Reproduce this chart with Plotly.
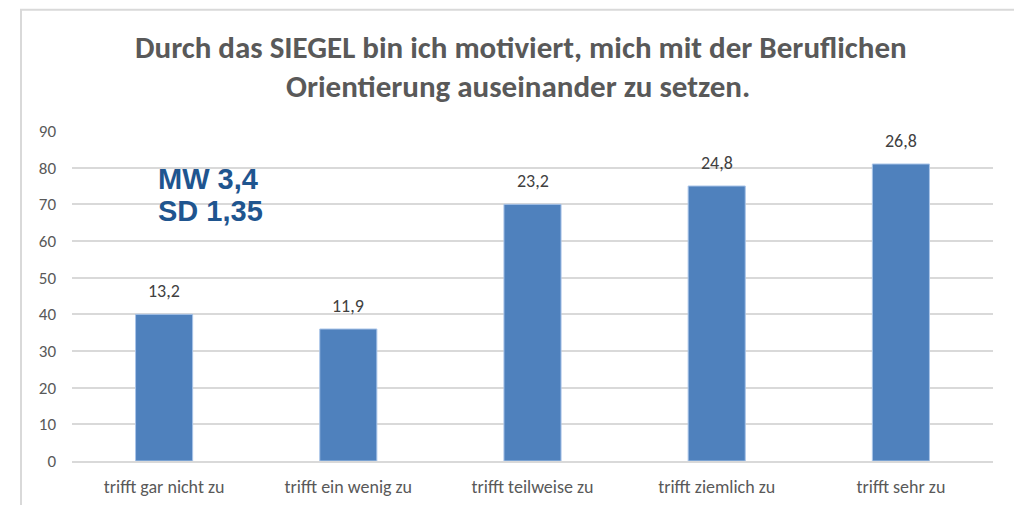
import plotly.graph_objects as go

categories = ["trifft gar nicht zu", "trifft ein wenig zu", "trifft teilweise zu",
              "trifft ziemlich zu", "trifft sehr zu"]
counts = [40, 36, 70, 75, 81]
percent_labels = ["13,2", "11,9", "23,2", "24,8", "26,8"]
y_ticks = [0, 10, 20, 30, 40, 50, 60, 70, 80, 90]
title_lines = ["Durch das SIEGEL bin ich motiviert, mich mit der Beruflichen",
               "Orientierung auseinander zu setzen."]
stats_lines = ["MW 3,4", "SD 1,35"]

CAL = "Carlito, 'Liberation Sans Narrow', 'DejaVu Sans Condensed', 'Open Sans', sans-serif"

# page offset (browser body margin)
OFF = 8
W, H = 1022, 505
# target page coordinates of plot area
PL, PR, PT, PB = 72, 993, 130.7, 460.7
L = PL - OFF
R = W - (PR - OFF)
T = PT - OFF
B = H - (PB - OFF)
pw, ph = W - L - R, H - T - B


def px_x(x):
    return (x - OFF - L) / pw


def px_y(y):
    return (H - B - (y - OFF)) / ph


fig = go.Figure()
fig.add_trace(go.Bar(
    x=categories, y=counts,
    marker=dict(color="#4F81BD", line=dict(color="#A9C4E8", width=1)),
    width=0.31, hoverinfo="skip",
))

annotations = []
for c, v, t in zip(categories, counts, percent_labels):
    annotations.append(dict(x=c, y=v, xref="x", yref="y", text=t, showarrow=False,
                            yanchor="bottom", yshift=10,
                            font=dict(family=CAL, size=18, color="#404040")))

annotations.append(dict(x=px_x(521), y=px_y(47), xref="paper", yref="paper",
                        text="<b>" + title_lines[0] + "</b>", showarrow=False,
                        xanchor="center", yanchor="middle",
                        font=dict(family=CAL, size=31, color="#595959")))
annotations.append(dict(x=px_x(518), y=px_y(86), xref="paper", yref="paper",
                        text="<b>" + title_lines[1] + "</b>", showarrow=False,
                        xanchor="center", yanchor="middle",
                        font=dict(family=CAL, size=31, color="#595959")))
annotations.append(dict(x=px_x(156), y=px_y(179), xref="paper", yref="paper",
                        text="<b>" + stats_lines[0] + "</b>", showarrow=False,
                        xanchor="left", yanchor="middle",
                        font=dict(family="Liberation Sans, Arial", size=29, color="#1F558F")))
annotations.append(dict(x=px_x(156), y=px_y(211), xref="paper", yref="paper",
                        text="<b>" + stats_lines[1] + "</b>", showarrow=False,
                        xanchor="left", yanchor="middle",
                        font=dict(family="Liberation Sans, Arial", size=29, color="#1F558F")))

shapes = [dict(type="rect", xref="paper", yref="paper",
               x0=px_x(21), x1=px_x(1018), y0=px_y(540), y1=px_y(9.5),
               line=dict(color="#D9D9D9", width=2), fillcolor="rgba(0,0,0,0)", layer="below")]

fig.update_layout(
    width=W, height=H,
    margin=dict(l=L, r=R, t=T, b=B, pad=0),
    paper_bgcolor="white", plot_bgcolor="white",
    showlegend=False,
    annotations=annotations, shapes=shapes,
    bargap=0.69,
    xaxis=dict(showgrid=False, showline=True, linecolor="#D9D9D9", linewidth=1.5,
               ticks="", tickfont=dict(family=CAL, size=18, color="#595959"),
               ticklabelstandoff=9, fixedrange=True),
    yaxis=dict(range=[0, 90], tickvals=y_ticks, showgrid=True, gridcolor="#D9D9D9",
               gridwidth=1.5, zeroline=False, showline=False, ticks="",
               tickfont=dict(family=CAL, size=17, color="#595959"),
               ticklabelstandoff=15, fixedrange=True),
)

fig.write_html("out.html")
